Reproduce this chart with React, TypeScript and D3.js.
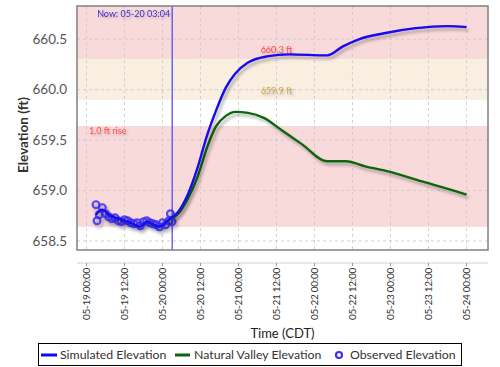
import * as d3 from 'd3';

// Time stamps are CDT wall-clock, handled as UTC so nothing shifts
const parseTime = d3.utcParse('%Y-%m-%d %H:%M');
const t = (s: string): Date => parseTime('2024-' + s) as Date;

const simulatedTimes = [
  '05-19 03:00', '05-19 05:00', '05-19 07:00', '05-19 11:00', '05-19 14:00',
  '05-19 17:00', '05-19 19:00', '05-19 23:00', '05-20 02:00', '05-20 05:00',
  '05-20 08:00', '05-20 11:00', '05-20 14:00', '05-20 17:00', '05-20 20:00',
  '05-20 23:00', '05-21 03:00', '05-21 09:00', '05-21 16:00', '05-22 04:00',
  '05-22 09:00', '05-22 14:00', '05-22 22:00', '05-23 08:00', '05-23 18:00',
  '05-24 00:00',
];
const simulatedValues = [
  658.76, 658.81, 658.76, 658.71, 658.68,
  658.64, 658.69, 658.64, 658.71, 658.79,
  658.96, 659.22, 659.54, 659.80, 660.02,
  660.16, 660.27, 660.33, 660.35, 660.34,
  660.43, 660.50, 660.56, 660.61, 660.63,
  660.62,
];

const valleyTimes = [
  '05-20 02:00', '05-20 05:00', '05-20 08:00', '05-20 11:00', '05-20 14:00',
  '05-20 17:00', '05-20 20:00', '05-20 23:00', '05-21 03:00', '05-21 08:00',
  '05-21 14:00', '05-21 20:00', '05-22 04:00', '05-22 10:00', '05-22 16:00',
  '05-22 22:00', '05-23 10:00', '05-23 22:00', '05-24 00:00',
];
const valleyValues = [
  658.71, 658.77, 658.92, 659.13, 659.42,
  659.64, 659.74, 659.78, 659.77, 659.72,
  659.59, 659.46, 659.29, 659.29, 659.24,
  659.20, 659.09, 658.98, 658.96,
];

const observedTimes = [
  '05-19 03:00', '05-19 03:20', '05-19 04:00', '05-19 05:00', '05-19 06:00',
  '05-19 07:00', '05-19 08:00', '05-19 09:00', '05-19 10:00', '05-19 11:00',
  '05-19 12:00', '05-19 13:00', '05-19 14:00', '05-19 15:00', '05-19 16:00',
  '05-19 17:00', '05-19 18:00', '05-19 19:00', '05-19 20:00', '05-19 21:00',
  '05-19 22:00', '05-19 23:00', '05-20 00:00', '05-20 01:00', '05-20 02:00',
  '05-20 02:30', '05-20 03:00',
];
const observedValues = [
  658.86, 658.70, 658.76, 658.83, 658.77,
  658.74, 658.72, 658.73, 658.70, 658.69,
  658.71, 658.70, 658.68, 658.67, 658.68,
  658.65, 658.69, 658.70, 658.68, 658.67,
  658.66, 658.64, 658.68, 658.66, 658.70,
  658.77, 658.69,
];

const nowTime = '05-20 03:04';
const nowLabel = 'Now: 05-20 03:04';

// threshold bands
const bandLows = [660.3, 659.9, 658.64];
const bandHighs = [661.5, 660.3, 659.64];
const bandLabels = ['660.3 ft', '659.9 ft', '1.0 ft rise'];
const bandFills = ['#f9dadb', '#f8efe1', '#f9dadb'];
const bandTextColors = ['#ff4a4a', '#c9a646', '#ff4a4a'];

const yTicks = [658.5, 659.0, 659.5, 660.0, 660.5];
const legendLabels = ['Simulated Elevation', 'Natural Valley Elevation', 'Observed Elevation'];

const W = 500;
const H = 367;
const M = { left: 77, top: 6, right: 488, bottom: 250 };
const FONT = 'Lato, "Open Sans", sans-serif';

export default function App() {
  const x = d3.scaleUtc()
    .domain([t('05-18 21:00'), t('05-24 06:48')])
    .range([M.left, M.right]);
  const y = d3.scaleLinear().domain([658.41, 660.83]).range([M.bottom, M.top]);

  const xTicks = x.ticks(d3.utcHour.every(12) as d3.TimeInterval);
  const fmt = d3.utcFormat('%m-%d %H:%M');

  const line = d3.line<[Date, number]>()
    .x(d => x(d[0]))
    .y(d => y(d[1]))
    .curve(d3.curveMonotoneX);

  const sim = simulatedTimes.map((s, i) => [t(s), simulatedValues[i]] as [Date, number]);
  const valley = valleyTimes.map((s, i) => [t(s), valleyValues[i]] as [Date, number]);
  const obs = observedTimes.map((s, i) => [t(s), observedValues[i]] as [Date, number]);
  const nowX = x(t(nowTime));

  const labelX = x(t('05-21 07:00'));

  return (
    <svg width={W} height={H} style={{ position: 'absolute', left: 0, top: 0 }} fontFamily={FONT}>
      <defs>
        <clipPath id="plot">
          <rect x={M.left} y={M.top} width={M.right - M.left} height={M.bottom - M.top} />
        </clipPath>
        <filter id="shadow" x="-10%" y="-10%" width="130%" height="140%">
          <feDropShadow dx="2" dy="3" stdDeviation="1.6" floodColor="#000" floodOpacity="0.3" />
        </filter>
        <filter id="tshadow" x="-10%" y="-30%" width="130%" height="170%">
          <feDropShadow dx="1.5" dy="1.5" stdDeviation="1" floodColor="#000" floodOpacity="0.25" />
        </filter>
      </defs>

      <rect x={M.left} y={M.top} width={M.right - M.left} height={M.bottom - M.top} fill="#fff" />

      {/* bands */}
      <g clipPath="url(#plot)">
        {bandLows.map((lo, i) => (
          <rect key={i} x={M.left} width={M.right - M.left}
            y={y(bandHighs[i])} height={y(lo) - y(bandHighs[i])} fill={bandFills[i]} />
        ))}
      </g>

      {/* grid */}
      <g stroke="#c8c8c8" strokeDasharray="3,3" strokeWidth={0.8}>
        {xTicks.map((d, i) => (
          <line key={i} x1={x(d)} x2={x(d)} y1={M.top} y2={M.bottom} />
        ))}
        {yTicks.map((v, i) => (
          <line key={i} x1={M.left} x2={M.right} y1={y(v)} y2={y(v)} />
        ))}
      </g>

      {/* band labels */}
      <g fontSize={9} filter="url(#tshadow)">
        <text x={labelX} y={y(bandLows[0]) - 6} fill={bandTextColors[0]}>{bandLabels[0]}</text>
        <text x={labelX} y={y(bandLows[1]) - 6} fill={bandTextColors[1]}>{bandLabels[1]}</text>
        <text x={M.left + 12} y={y(bandHighs[2]) + 8} fill={bandTextColors[2]}>{bandLabels[2]}</text>
      </g>

      {/* now marker */}
      <line x1={nowX} x2={nowX} y1={M.top} y2={M.bottom} stroke="#5a4ee6" strokeWidth={1.3} />
      <text x={nowX - 2} y={M.top + 11} textAnchor="end" fontSize={9} fill="#3a2fd0"
        filter="url(#tshadow)">{nowLabel}</text>

      {/* series */}
      <g clipPath="url(#plot)">
        <g filter="url(#shadow)">
          {obs.map((d, i) => (
            <circle key={i} cx={x(d[0])} cy={y(d[1])} r={3.4} fill="none"
              stroke="#3b2ff0" strokeWidth={2.2} strokeOpacity={0.85} />
          ))}
        </g>
        <path d={line(valley) ?? ''} fill="none" stroke="#0a650a" strokeWidth={2.4}
          filter="url(#shadow)" />
        <path d={line(sim) ?? ''} fill="none" stroke="#1408ee" strokeWidth={2.4}
          filter="url(#shadow)" />
      </g>

      {/* frame */}
      <rect x={M.left} y={M.top} width={M.right - M.left} height={M.bottom - M.top}
        fill="none" stroke="#808080" strokeWidth={1.5} />

      {/* y axis */}
      <g fontSize={13.5} fill="#555" textAnchor="end">
        {yTicks.map((v, i) => (
          <text key={i} x={67} y={y(v)} dy="0.35em">{v.toFixed(1)}</text>
        ))}
      </g>
      <text transform={`translate(28,${(M.top + M.bottom) / 2 + 7}) rotate(-90)`} textAnchor="middle"
        fontSize={13.5} fontWeight="bold" fill="#333">Elevation (ft)</text>

      {/* x axis */}
      <line x1={M.left} x2={M.right} y1={263} y2={263} stroke="#d0d0d0" />
      <g>
        {xTicks.map((d, i) => (
          <g key={i} transform={`translate(${x(d)},0)`}>
            <line y1={263} y2={266} stroke="#999" />
            <text transform="translate(0,268) rotate(-90)" textAnchor="end" dy="0.35em"
              fontSize={10} letterSpacing={-0.3} fill="#333">{fmt(d)}</text>
          </g>
        ))}
      </g>
      <text x={(M.left + M.right) / 2} y={338} textAnchor="middle" fontSize={13} fill="#222">Time (CDT)</text>

      {/* legend */}
      <rect x={38.5} y={343.5} width={423} height={22} fill="#fff" stroke="#000" strokeWidth={1} />
      <g fontSize={12.3} fill="#333">
        <line x1={41} x2={57} y1={355} y2={355} stroke="#1408ee" strokeWidth={3} />
        <text x={60} y={355} dy="0.35em">{legendLabels[0]}</text>
        <line x1={175} x2={190} y1={355} y2={355} stroke="#0a650a" strokeWidth={3} />
        <text x={194} y={355} dy="0.35em">{legendLabels[1]}</text>
        <circle cx={339} cy={355} r={3} fill="none" stroke="#3b2ff0" strokeWidth={2.2} />
        <text x={350} y={355} dy="0.35em">{legendLabels[2]}</text>
      </g>
    </svg>
  );
}
